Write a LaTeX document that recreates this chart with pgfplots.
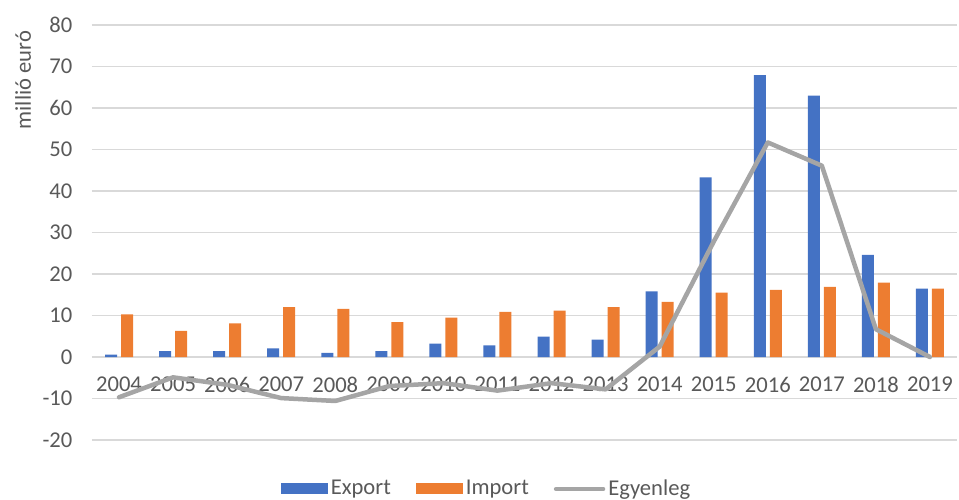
\documentclass[border=0pt]{standalone}
\usepackage{pgfplots}
\usepackage{pgfplotstable}
\pgfplotsset{compat=1.18}
\usepackage{fontspec}
\setmainfont{Carlito}

\definecolor{expblue}{HTML}{4472C4}
\definecolor{imporange}{HTML}{ED7D31}
\definecolor{balgray}{HTML}{A5A5A5}
\definecolor{txtgray}{HTML}{595959}
\definecolor{gridgray}{HTML}{D9D9D9}

% x = year index (0 = 2004), values in million euro
\pgfplotstableread{
x  export import balance
0   0.6   10.3   -9.7
1   1.4    6.3   -4.9
2   1.4    8.1   -6.7
3   2.1   12.0   -9.9
4   1.0   11.6  -10.6
5   1.4    8.4   -7.0
6   3.2    9.5   -6.3
7   2.8   10.9   -8.1
8   4.9   11.2   -6.3
9   4.2   12.0   -7.8
10 15.8   13.3    2.5
11 43.3   15.5   27.8
12 67.9   16.2   51.7
13 63.0   16.9   46.1
14 24.6   17.9    6.7
15 16.5   16.5    0.0
}\tradedata

\begin{document}
\begin{tikzpicture}[font=\fontsize{11.3}{13}\selectfont]
\useasboundingbox (-46pt,-29.5pt) rectangle (433.5pt,220pt);
\begin{axis}[
  scale only axis,
  width=432.5pt, height=207.5pt,
  at={(0,0)}, anchor=south west,
  xmin=-0.5, xmax=15.5,
  ymin=-20, ymax=80,
  ytick={-20,-10,...,80},
  xtick={0,...,15},
  xticklabels={2004,2005,2006,2007,2008,2009,2010,2011,2012,2013,2014,2015,2016,2017,2018,2019},
  ymajorgrids,
  major grid style={gridgray, line width=0.75pt},
  axis line style={draw=none},
  major tick length=0pt,
  tick label style={txtgray, font=\fontsize{11.3}{13}\selectfont},
  /pgf/number format/assume math mode=true,
  yticklabel style={anchor=east, xshift=-6.3pt},
  xticklabel style={anchor=north, yshift=35pt},
  clip=false,
  legend columns=3,
  legend style={
    at={(axis description cs:0.4566,-0.118)}, anchor=center,
    draw=none, fill=none, inner sep=0pt,
    font=\fontsize{11.3}{13}\selectfont, text=txtgray,
    nodes={inner sep=1.5pt},
    /tikz/every even column/.append style={column sep=11pt},
  },
]
\addplot[ybar, bar width=0.222, bar shift=-0.148, fill=expblue, draw=none,
  legend image code/.code={\fill[expblue] (0pt,-2.75pt) rectangle (23.5pt,2.75pt);}]
  table[x=x, y=export] {\tradedata};
\addlegendentry{Export}
\addplot[ybar, bar width=0.222, bar shift=0.148, fill=imporange, draw=none,
  legend image code/.code={\fill[imporange] (0pt,-2.75pt) rectangle (23.5pt,2.75pt);}]
  table[x=x, y=import] {\tradedata};
\addlegendentry{Import}
\addplot[balgray, line width=2.25pt, line join=round, line cap=round, mark=none,
  legend image code/.code={\draw[balgray, line width=2.25pt, line cap=round] (1pt,0pt) -- (24.5pt,0pt);}]
  table[x=x, y=balance] {\tradedata};
\addlegendentry{Egyenleg}
\node[xshift=-34.5pt, rotate=90, txtgray, anchor=center] at (axis description cs:0,0.867) {millió euró};
\end{axis}
\end{tikzpicture}
\end{document}
